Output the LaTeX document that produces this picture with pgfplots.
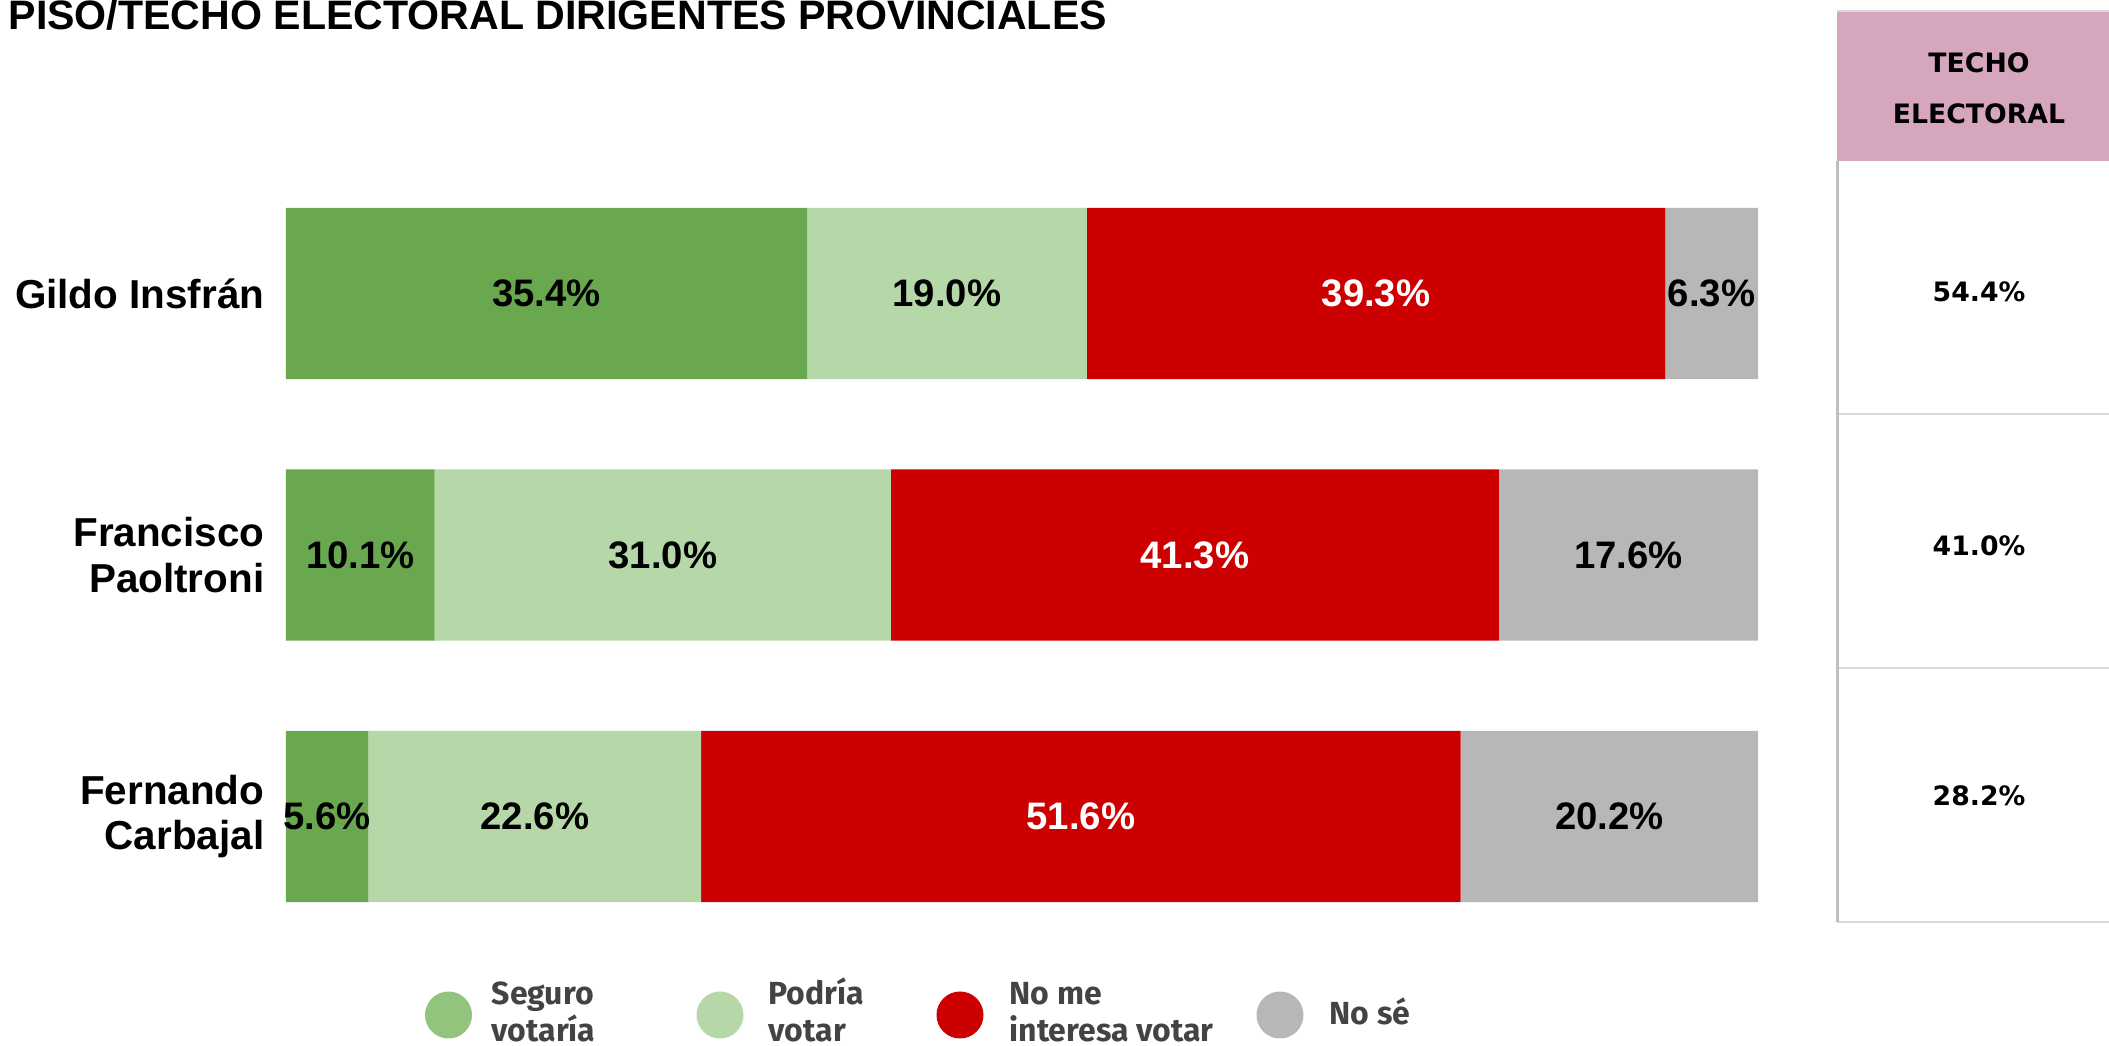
\documentclass[border=0pt]{standalone}
\usepackage{fontspec}
\usepackage{pgfplots}
\usepackage{pgfplotstable}
\pgfplotsset{compat=1.18}
\setmainfont{Liberation Sans}
\newfontfamily\tabfont{DejaVu Sans}
\newfontfamily\legfont{Fira Sans}

\definecolor{seguro}{HTML}{6AA84F}
\definecolor{podria}{HTML}{B6D7A8}
\definecolor{nome}{HTML}{CC0000}
\definecolor{nose}{HTML}{B7B7B7}
\definecolor{segleg}{HTML}{93C47D}
\definecolor{pinkhead}{HTML}{D5A6BD}
\definecolor{legtext}{HTML}{434343}
\definecolor{tabline}{HTML}{D9D9D9}

% y: 0 = Gildo, 1 = Francisco, 2 = Fernando
\pgfplotstableread{
y a b c d
0 35.4 19.0 39.3 6.3
1 10.1 31.0 41.3 17.6
2 5.6 22.6 51.6 20.2
}\data

\begin{document}
\begin{tikzpicture}
\useasboundingbox (0,0) rectangle (210.9mm,-104.6mm);
\clip (0,0) rectangle (210.9mm,-104.6mm);

% title
\node[anchor=base west, inner sep=0pt] at (0.8mm,-2.97mm)
  {\fontsize{11.7}{13}\selectfont\bfseries PISO/TECHO ELECTORAL DIRIGENTES PROVINCIALES};

\begin{axis}[
    at={(28.6mm,-16.275mm)}, anchor=north west,
    scale only axis, width=147.2mm, height=78.45mm,
    xbar stacked, bar width=17.1mm,
    xmin=0, xmax=100, ymin=-0.5, ymax=2.5,
    y dir=reverse,
    axis line style={draw=none},
    xtick=\empty, ytick={0,1,2},
    yticklabels={Gildo Insfrán, {Francisco\\Paoltroni}, {Fernando\\Carbajal}},
    yticklabel style={align=right, font=\fontsize{11.5}{13}\selectfont\bfseries,
        inner sep=0pt, xshift=-2.1mm},
    major tick length=0pt,
    clip=false,
    nodes near coords align=center,
    lbl/.style={draw=none, fill=#1,
        point meta=explicit symbolic,
        nodes near coords={\pgfplotspointmeta\%},
        nodes near coords style={anchor=center, inner sep=0pt,
            font=\fontsize{10.9}{12}\selectfont\bfseries, text=black}},
]
\addplot[lbl=seguro] table[x=a, y=y, meta=a]{\data};
\addplot[lbl=podria] table[x=b, y=y, meta=b]{\data};
\addplot[lbl=nome, nodes near coords style={text=white}] table[x=c, y=y, meta=c]{\data};
\addplot[lbl=nose] table[x=d, y=y, meta=d]{\data};
\end{axis}

% techo electoral table
\fill[pinkhead] (183.7mm,-1.1mm) rectangle (212mm,-16.1mm);
\draw[tabline, line width=0.2mm] (183.7mm,-1.1mm) -- (212mm,-1.1mm);
\draw[tabline, line width=0.2mm] (183.7mm,-41.4mm) -- (212mm,-41.4mm);
\draw[tabline, line width=0.2mm] (183.7mm,-66.8mm) -- (212mm,-66.8mm);
\draw[tabline, line width=0.2mm] (183.7mm,-92.2mm) -- (212mm,-92.2mm);
\draw[black!25, line width=0.3mm] (183.7mm,-16.1mm) -- (183.7mm,-92.2mm);
\begin{scope}[every node/.style={inner sep=0pt, font=\tabfont\fontsize{7.6}{9}\selectfont\bfseries}]
\node[anchor=base] at (197.9mm,-7.3mm) {TECHO};
\node[anchor=base] at (197.9mm,-12.4mm) {ELECTORAL};
\node at (197.9mm,-29.2mm) {54.4\%};
\node at (197.9mm,-54.6mm) {41.0\%};
\node at (197.9mm,-79.6mm) {28.2\%};
\end{scope}

% legend
\begin{scope}[every node/.style={inner sep=0pt, anchor=base west, text=legtext,
    font=\legfont\fontsize{9.1}{10}\selectfont\bfseries}]
\fill[segleg] (44.85mm,-101.5mm) circle (2.35mm);
\node at (49.1mm,-100.5mm) {Seguro};
\node at (49.1mm,-104.2mm) {votaría};
\fill[podria] (72.0mm,-101.5mm) circle (2.35mm);
\node at (76.8mm,-100.5mm) {Podría};
\node at (76.8mm,-104.2mm) {votar};
\fill[nome] (96.0mm,-101.5mm) circle (2.35mm);
\node at (100.9mm,-100.5mm) {No me};
\node at (100.9mm,-104.2mm) {interesa votar};
\fill[nose] (128.0mm,-101.5mm) circle (2.35mm);
\node at (132.9mm,-102.5mm) {No sé};
\end{scope}
\end{tikzpicture}
\end{document}
